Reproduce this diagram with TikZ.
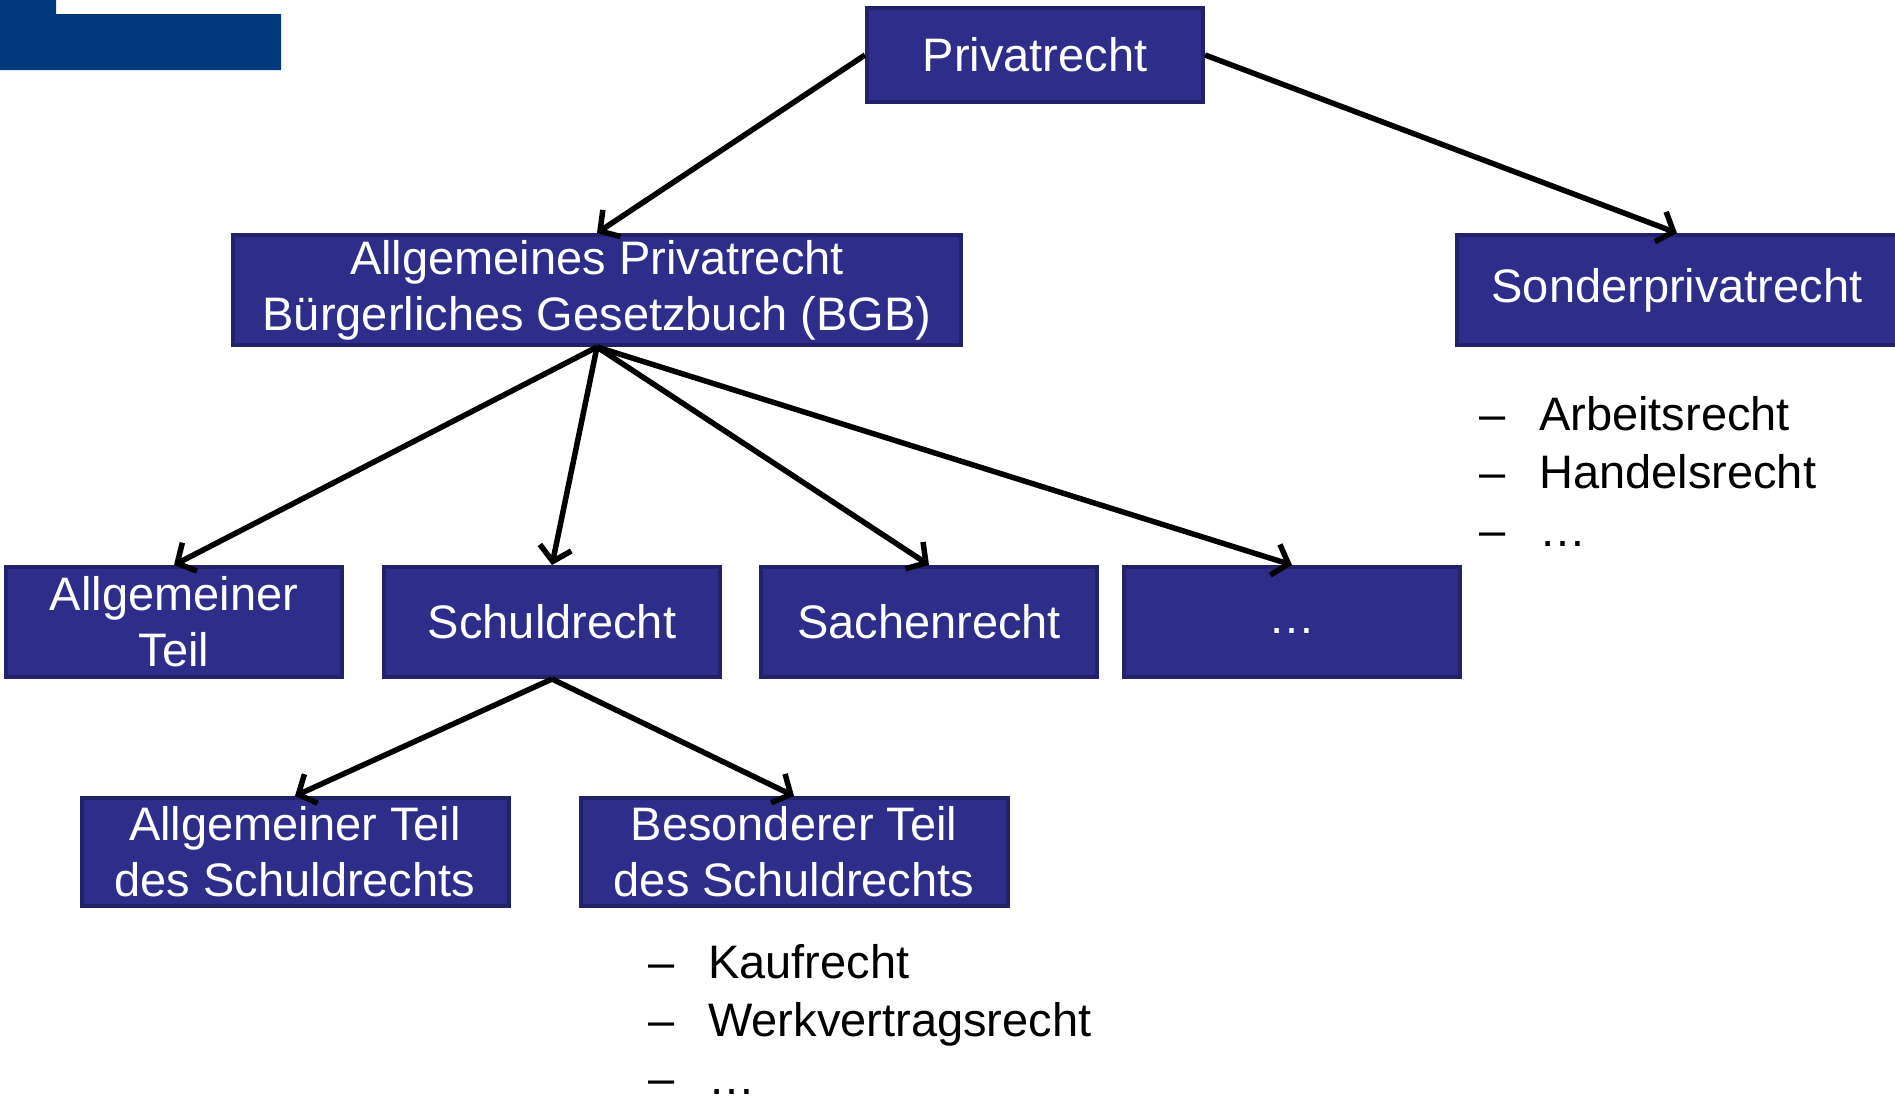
\documentclass[tikz,border=0pt]{standalone}
\usepackage{fontspec}
\setmainfont{Liberation Sans}
\usetikzlibrary{arrows.meta}

\begin{document}
\begin{tikzpicture}[x=1pt,y=-1pt,
    box/.style={draw=BoxEdge,line width=4pt,fill=BoxFill,text=white,inner sep=0pt,
        align=center,minimum height=110pt,font=\fontsize{47pt}{56pt}\selectfont},
    arr/.style={line width=5.5pt,-{Straight Barb[length=14pt,width=32pt]}},
    entry/.style={anchor=base west,inner sep=0pt,font=\fontsize{47pt}{56pt}\selectfont}]
    \definecolor{BoxFill}{HTML}{2E2E8A}
    \definecolor{BoxEdge}{HTML}{22226A}
    \definecolor{TopBlue}{HTML}{003A7D}
    \path[use as bounding box,clip] (0,0) rectangle (1895,1096);
    \fill[TopBlue] (0,0) -- (56,0) -- (56,14) -- (281,14) -- (281,70) -- (0,70) -- cycle;
    \node[box,minimum width=336pt,minimum height=94pt] (priv) at (1035,55) {Privatrecht};
    \node[box,minimum width=728pt] (allg) at (597,290) {Allgemeines Privatrecht\\B\"urgerliches Gesetzbuch (BGB)};
    \node[box,minimum width=440pt] (sonder) at (1677,290) {Sonderprivatrecht};
    \node[box,minimum width=336pt] (at) at (174,622) {Allgemeiner\\Teil};
    \node[box,minimum width=336pt] (schuld) at (552,622) {Schuldrecht};
    \node[box,minimum width=336pt] (sachen) at (929,622) {Sachenrecht};
    \node[box,minimum width=336pt] (etc) at (1292,622) {\raisebox{-22pt}{…}};
    \node[box,minimum width=427pt,minimum height=108pt] (atsr) at (295,852) {Allgemeiner Teil\\des Schuldrechts};
    \node[box,minimum width=427pt,minimum height=108pt] (btsr) at (794,852) {Besonderer Teil\\des Schuldrechts};
    \draw[arr] (priv.west) -- (allg.north);
    \draw[arr] (priv.east) -- (sonder.north);
    \foreach \n in {at,schuld,sachen,etc}
        \draw[arr] (allg.south) -- (\n.north);
    \foreach \n in {atsr,btsr}
        \draw[arr] (schuld.south) -- (\n.north);
    \foreach \txt [count=\i] in {Arbeitsrecht,Handelsrecht,…}
        \node[entry] (son\i) at (1479,372+58*\i) {\makebox[60pt][l]{–}\txt};
    \foreach \txt [count=\i] in {Kaufrecht,Werkvertragsrecht,…}
        \node[entry] (bes\i) at (648,920+58*\i) {\makebox[60pt][l]{–}\txt};
\end{tikzpicture}
\end{document}
